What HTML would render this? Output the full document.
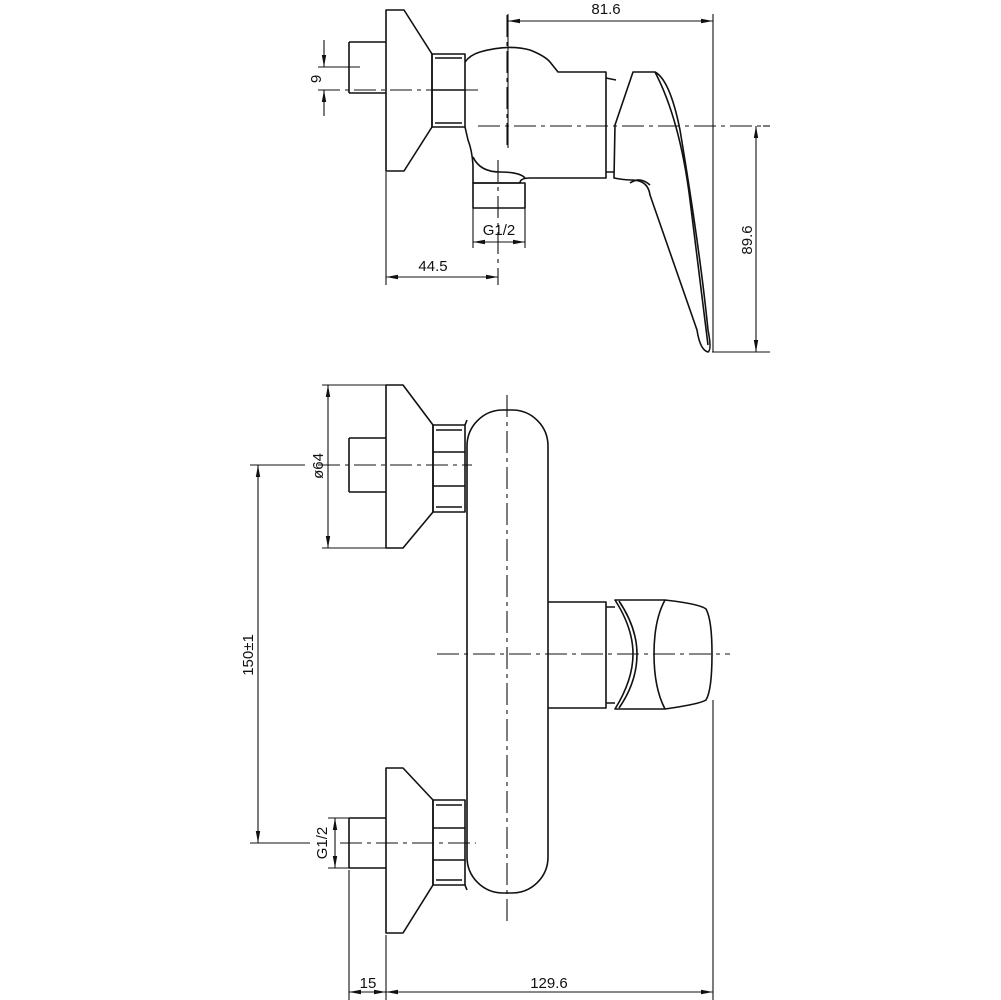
<!DOCTYPE html>
<html><head><meta charset="utf-8"><style>
html,body{margin:0;padding:0;background:#fff;}
svg{display:block;}
text{font-family:"Liberation Sans",sans-serif;font-size:15px;fill:#111;}
</style></head><body>
<svg width="1001" height="1000" viewBox="0 0 1001 1000" xmlns="http://www.w3.org/2000/svg">
<defs>
<marker id="a" viewBox="0 0 12 6" refX="12" refY="3" markerWidth="12" markerHeight="6" orient="auto-start-reverse" markerUnits="userSpaceOnUse">
<path d="M0,0.8 L12,3 L0,5.2 Z" fill="#111"/></marker>
</defs>
<g fill="none" stroke="#111" stroke-width="1.6" stroke-linejoin="round">
<!-- TOP VIEW -->
<path d="M386,10 H404 L432,54 V127 L404,171 H386 Z"/>
<rect x="432" y="54" width="33" height="73"/>
<path d="M435,58 L462,58 M435,123 H462 M432,90 H465"/>
<path d="M349,42 H386 M349,93 H386 M349,42 V93"/>
<path d="M465,62 Q470,55 480,52 Q508,44 530,50 Q545,56 550,62 L558,72 H606 V178 H530 Q520,178 520,183 H473 V165 Q472,150 468,140 L465,127"/>
<path d="M473,157 Q480,172 500,172 Q520,172 525,178"/>
<rect x="473" y="183" width="52" height="25"/>
<path d="M606,78 L616,80 M606,172 L614,172"/>
<path d="M633,72 H655 Q670,80 680,130 Q700,250 708,330 Q712,350 708,352 Q700,350 697,330 L650,195 Q648,180 632,180 Q624,180 614,178 L615,125 Z"/>
<path d="M655,72 Q680,120 690,200 Q700,280 708,345"/>
<path d="M630,183 Q640,176 650,185"/>
</g>
<g fill="none" stroke="#111" stroke-width="1.1" stroke-dasharray="22,5,4,5">
<path d="M318,90 H478"/><path d="M478,126 H763"/><path d="M507,15 V150"/><path d="M498,160 V285"/>
</g>
<g fill="none" stroke="#111" stroke-width="1.1">
<path d="M508,14 V148"/><path d="M713,14 V352"/><path d="M712,352 H770"/><path d="M763,126 H770"/>
<path d="M318,67 H360"/><path d="M324,40 V67" marker-end="url(#a)"/><path d="M324,116 V90" marker-end="url(#a)"/>
<path d="M508,21 H713" marker-start="url(#a)" marker-end="url(#a)"/>
<path d="M756,126 V352" marker-start="url(#a)" marker-end="url(#a)"/>
<path d="M473,208 V248 M525,208 V248"/>
<path d="M473,242 H525" marker-start="url(#a)" marker-end="url(#a)"/>
<path d="M386,172 V285"/>
<path d="M386,277 H498" marker-start="url(#a)" marker-end="url(#a)"/>
</g>
<text x="606" y="14" text-anchor="middle">81.6</text>
<text x="499" y="235" text-anchor="middle">G1/2</text>
<text x="433" y="271" text-anchor="middle">44.5</text>
<text transform="translate(321,79) rotate(-90)" text-anchor="middle">9</text>
<text transform="translate(752,240) rotate(-90)" text-anchor="middle">89.6</text>

<!-- FRONT VIEW -->
<g fill="none" stroke="#111" stroke-width="1.6" stroke-linejoin="round">
<path d="M386,385 H403 L433,425 V512 L403,548 H386 Z"/>
<rect x="433" y="425" width="32" height="87"/>
<path d="M436,430 H462 M436,507 H462 M433,452 H465 M433,486 H465"/>
<path d="M349,438 H386 M349,492 H386 M349,438 V492"/>
<path d="M386,768 H403 L433,800 V885 L403,933 H386 Z"/>
<rect x="433" y="800" width="32" height="85"/>
<path d="M436,805 H462 M436,880 H462 M433,828 H465 M433,860 H465"/>
<path d="M349,818 H386 M349,868 H386 M349,818 V868"/>
<rect x="467" y="410" width="81" height="483" rx="36" ry="36"/>
<path d="M465,425 L467,420 M465,885 L467,890"/>
<path d="M548,602 H606 V708 H548"/>
<path d="M606,607 H615 M606,703 H615"/>
<path d="M615,600 H665 Q700,604 706,609 Q712,620 712,654 Q712,690 706,700 Q700,704 665,709 H615 Q633,680 633,654 Q633,628 615,600 Z"/>
<path d="M619,601 Q637,628 637,654 Q637,682 619,708"/>
<path d="M665,600 Q654,620 654,654 Q654,688 665,709"/>
</g>
<g fill="none" stroke="#111" stroke-width="1.1" stroke-dasharray="22,5,4,5">
<path d="M507,395 V925"/><path d="M437,654 H730"/><path d="M318,465 H472"/><path d="M340,843 H476"/>
</g>
<g fill="none" stroke="#111" stroke-width="1.1">
<path d="M322,385 H386 M322,548 H386"/>
<path d="M328,385 V548" marker-start="url(#a)" marker-end="url(#a)"/>
<path d="M250,465 H305 M250,843 H310"/>
<path d="M258,465 V843" marker-start="url(#a)" marker-end="url(#a)"/>
<path d="M328,818 H349 M328,868 H349"/>
<path d="M335,818 V868" marker-start="url(#a)" marker-end="url(#a)"/>
<path d="M349,870 V1000 M386,935 V1000 M713,700 V1000"/>
<path d="M349,992 H386" marker-start="url(#a)" marker-end="url(#a)"/>
<path d="M386,992 H713" marker-start="url(#a)" marker-end="url(#a)"/>
</g>
<text transform="translate(323,466) rotate(-90)" text-anchor="middle">ø64</text>
<text transform="translate(253,655) rotate(-90)" text-anchor="middle">150±1</text>
<text transform="translate(327,843) rotate(-90)" text-anchor="middle">G1/2</text>
<text x="368" y="988" text-anchor="middle">15</text>
<text x="549" y="988" text-anchor="middle">129.6</text>
</svg>
</body></html>
